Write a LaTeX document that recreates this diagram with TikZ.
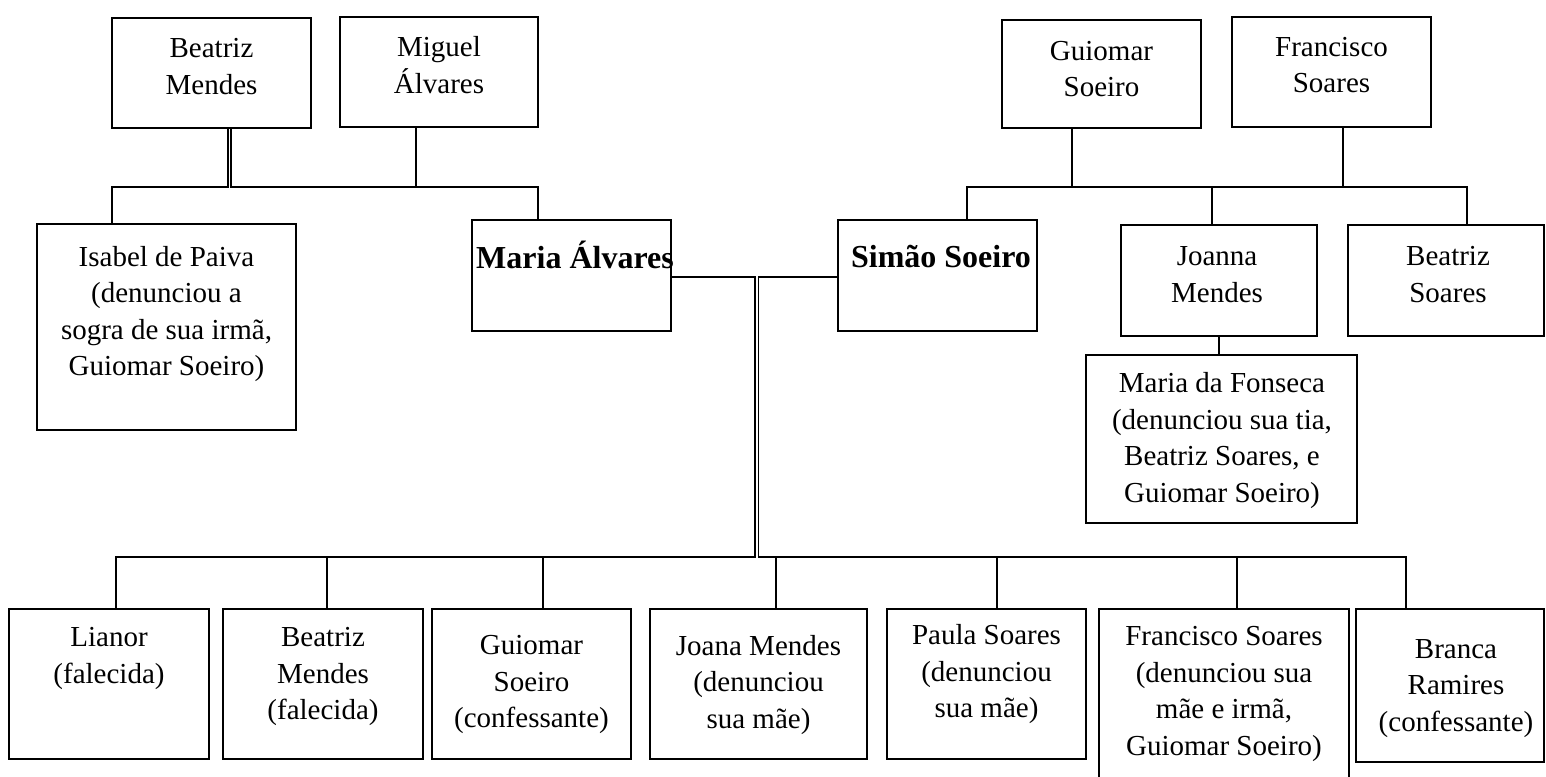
\documentclass[tikz,border=0pt]{standalone}
\usepackage{fontspec}
\setmainfont{Liberation Serif}
\usetikzlibrary{fit}
\newcommand\regf{\fontsize{14.5pt}{18.25pt}\selectfont}
\newcommand\boldf{\fontsize{16pt}{19pt}\selectfont\bfseries}
\tikzset{
  pbox/.style={draw, line width=1.3pt, inner sep=0pt},
  txt/.style={align=center, inner sep=0pt, font=\regf},
  btxt/.style={align=center, inner sep=0pt, font=\boldf},
  conn/.style={line width=0.55pt},
  tconn/.style={line width=1.3pt}
}
\begin{document}
\begin{tikzpicture}[x=0.5pt,y=-0.5pt]
\useasboundingbox (0,0) rectangle (1546,776);
\clip (0,0) rectangle (1546,776);
% helper coordinates
\coordinate (yL) at (0,187);
\coordinate (yM) at (0,277);
\coordinate (yB) at (0,557);
\coordinate (dl) at (228,0);
\coordinate (dr) at (231,0);
\coordinate (xIP) at (112,0);
\coordinate (xMI) at (416,0);
\coordinate (xMAL) at (538,0);
\coordinate (xGS) at (1072,0);
\coordinate (xFS) at (1343,0);
\coordinate (xSIM) at (967,0);
\coordinate (xJM) at (1212,0);
\coordinate (xBS) at (1467,0);
\coordinate (ml) at (755,0);
\coordinate (mr) at (758.5,0);
\coordinate (xLI) at (116,0);
\coordinate (xBM) at (327,0);
\coordinate (xGU) at (543,0);
\coordinate (xJO) at (776,0);
\coordinate (xPA) at (997,0);
\coordinate (xFR) at (1237,0);
\coordinate (xBR) at (1406,0);

% boxes
\node[pbox, fit={(112,18) (311,128)}] (bm) {};
\node[pbox, fit={(340,17) (538,127)}] (mi) {};
\node[pbox, fit={(1002,20) (1201,128)}] (gs) {};
\node[pbox, fit={(1232,17) (1431,127)}] (fs) {};
\node[pbox, fit={(37,224) (296,430)}] (ip) {};
\node[pbox, fit={(472,220) (671,331)}] (mal) {};
\node[pbox, fit={(838,220) (1037,331)}] (sim) {};
\node[pbox, fit={(1121,225) (1317,336)}] (jm) {};
\node[pbox, fit={(1348,225) (1544,336)}] (bs) {};
\node[pbox, fit={(1086,355) (1357,523)}] (mf) {};
\node[pbox, fit={(9,609) (209,759)}] (li) {};
\node[pbox, fit={(223,609) (423,759)}] (bm2) {};
\node[pbox, fit={(432,609) (631,759)}] (gs2) {};
\node[pbox, fit={(650,609) (867,759)}] (jo) {};
\node[pbox, fit={(887,609) (1086,759)}] (pa) {};
\node[pbox, fit={(1099,609) (1349,790)}] (fr) {};
\node[pbox, fit={(1356,609) (1544,762)}] (br) {};

% texts
\node[txt] (bmT) at (211.5,66.5) {Beatriz\\Mendes};
\node[txt] (miT) at (439,65) {Miguel\\Álvares};
\node[txt] (gsT) at (1101.5,69) {Guiomar\\Soeiro};
\node[txt] (fsT) at (1331.5,65) {Francisco\\Soares};
\node[txt] (ipT) at (166.5,314) {Isabel de Paiva\\(denunciou a\\sogra de sua irmã,\\Guiomar Soeiro)};
\node[btxt] (malT) at (575,255) {Maria Álvares};
\node[btxt] (simT) at (941,257) {Simão Soeiro};
\node[txt] (jmT) at (1217,274.5) {Joanna\\Mendes};
\node[txt] (bsT) at (1448,274.5) {Beatriz\\Soares};
\node[txt] (mfT) at (1222,440.5) {Maria da Fonseca\\(denunciou sua tia,\\Beatriz Soares, e\\Guiomar Soeiro)};
\node[txt] (liT) at (109,658.5) {Lianor\\(falecida)};
\node[txt] (bm2T) at (323,676.5) {Beatriz\\Mendes\\(falecida)};
\node[txt] (gs2T) at (531.5,684.5) {Guiomar\\Soeiro\\(confessante)};
\node[txt] (joT) at (758.5,685) {Joana Mendes\\(denunciou\\sua mãe)};
\node[txt] (paT) at (986.5,674.5) {Paula Soares\\(denunciou\\sua mãe)};
\node[txt] (frT) at (1224,694) {Francisco Soares\\(denunciou sua\\mãe e irmã,\\Guiomar Soeiro)};
\node[txt] (brT) at (1456,688.5) {Branca\\Ramires\\(confessante)};

% left parents
\draw[conn] (bm.south -| dl) -- (dl |- yL) -| (ip.north -| xIP);
\draw[conn] (bm.south -| dr) -- (dr |- yL) -| (mal.north -| xMAL);
\draw[conn] (mi.south -| xMI) -- (xMI |- yL);
% right parents
\draw[conn] (gs.south -| xGS) -- (xGS |- yL);
\draw[conn] (sim.north -| xSIM) |- (xBS |- yL) -- (bs.north -| xBS);
\draw[conn] (xJM |- yL) -- (jm.north -| xJM);
\draw[tconn] (fs.south -| xFS) -- (xFS |- yL) -- ++(-66,0);
\draw[conn] (jm.south) -- (jm.south |- mf.north);
% marriage
\draw[conn] (mal.east |- yM) -- (ml |- yM) -- (ml |- yB) -- (xLI |- yB);
\draw[conn] (sim.west |- yM) -- (mr |- yM) -- (mr |- yB) -- (xBR |- yB);
% children
\draw[tconn] (li.north -| xLI) -- (xLI |- yB) -- ++(38,0);
\draw[tconn] (bm2.north -| xBM) -- (xBM |- yB) -- ++(38,0);
\draw[tconn] (gs2.north -| xGU) -- (xGU |- yB) -- ++(38,0);
\draw[tconn] (jo.north -| xJO) -- (xJO |- yB) -- ++(38,0);
\draw[tconn] (pa.north -| xPA) -- (xPA |- yB) -- ++(38,0);
\draw[tconn] (fr.north -| xFR) -- (xFR |- yB) -- ++(38,0);
\draw[tconn] (br.north -| xBR) -- (xBR |- yB) -- ++(-31,0);
\end{tikzpicture}
\end{document}
